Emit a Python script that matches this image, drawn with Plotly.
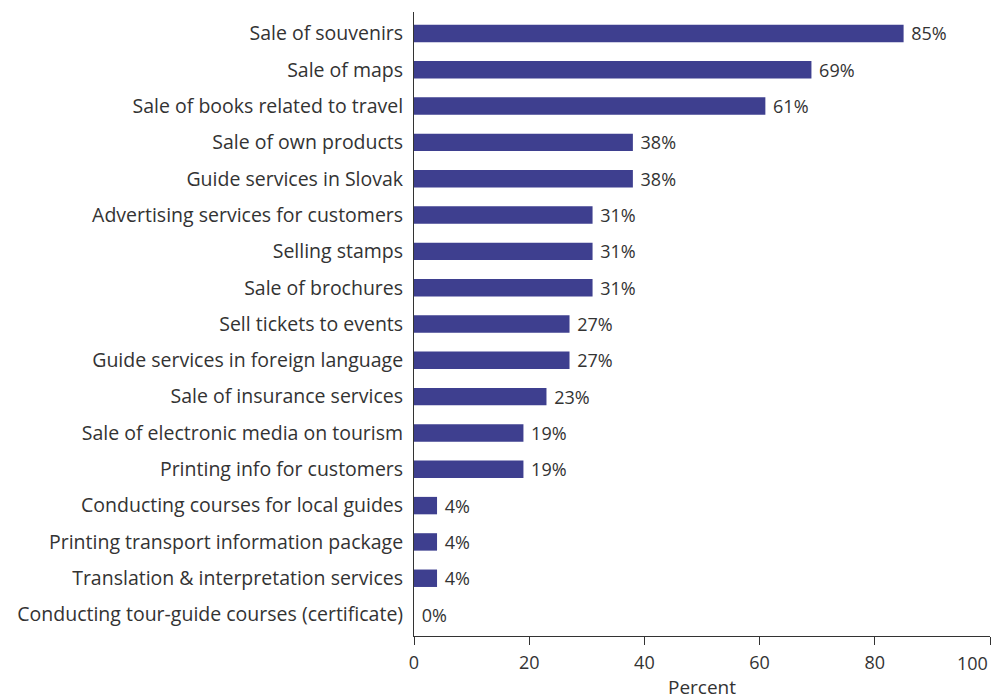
import plotly.graph_objects as go

categories = [
    "Sale of souvenirs",
    "Sale of maps",
    "Sale of books related to travel",
    "Sale of own products",
    "Guide services in Slovak",
    "Advertising services for customers",
    "Selling stamps",
    "Sale of brochures",
    "Sell tickets to events",
    "Guide services in foreign language",
    "Sale of insurance services",
    "Sale of electronic media on tourism",
    "Printing info for customers",
    "Conducting courses for local guides",
    "Printing transport information package",
    "Translation & interpretation services",
    "Conducting tour-guide courses (certificate)",
]
values = [85, 69, 61, 38, 38, 31, 31, 31, 27, 27, 23, 19, 19, 4, 4, 4, 0]
x_ticks = [0, 20, 40, 60, 80, 100]
x_tick_labels = ["0", "20", "40", "60", "80", "100"]

FONT = "Open Sans"
TXT = "#333333"
n = len(categories)

fig = go.Figure(go.Bar(
    y=categories,
    x=values,
    orientation="h",
    marker=dict(color="#3e3f8f", line=dict(width=0)),
    width=0.48,
    text=[f"\u00a0{v}%" for v in values],
    textposition="outside",
    constraintext="none",
    cliponaxis=False,
    hoverinfo="skip",
    textfont=dict(family=FONT, size=18, color=TXT),
))

# last tick label is right-aligned to its tick (as in the reference)
fig.add_annotation(
    x=x_ticks[-1], xref="x", y=0, yref="paper",
    text=x_tick_labels[-1], showarrow=False,
    xanchor="right", yanchor="middle", yshift=-27,
    font=dict(family=FONT, size=18, color=TXT),
)

fig.update_layout(
    width=998, height=700,
    margin=dict(l=414, r=8, t=12, b=64, autoexpand=False),
    paper_bgcolor="white", plot_bgcolor="white",
    font=dict(family=FONT, size=18, color=TXT),
    showlegend=False,
    xaxis=dict(
        range=[0, 100], tickvals=x_ticks,
        ticktext=x_tick_labels[:-1] + [""],
        showgrid=False, zeroline=False,
        showline=True, linecolor="#333333", linewidth=1,
        ticks="outside", ticklen=8, tickcolor="#333333",
        ticklabelstandoff=2,
        automargin=False,
        tickfont=dict(family=FONT, size=18, color=TXT),
        title=dict(text="Percent", standoff=12, font=dict(family=FONT, size=19, color=TXT)),
    ),
    yaxis=dict(
        categoryorder="array", categoryarray=categories[::-1],
        range=[-0.59, n - 1 + 0.59],
        showgrid=False, zeroline=False, automargin=False,
        showline=True, linecolor="#333333", linewidth=1,
        ticks="", ticklabelstandoff=6,
        tickfont=dict(family=FONT, size=19.5, color=TXT),
    ),
)

fig.write_html("out.html", config={"displayModeBar": False},
               post_script="document.body.style.margin='0';")
